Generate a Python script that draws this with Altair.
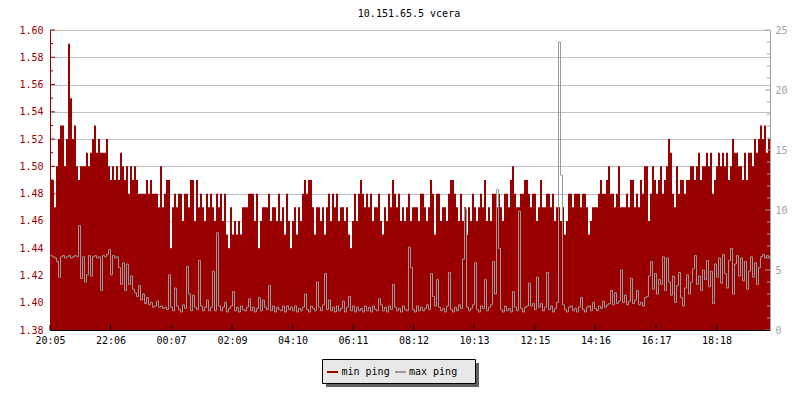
import json
import altair as alt
import pandas as pd

# ---------------- data ----------------
title_text = "10.151.65.5 vcera"
series_names = ["min ping", "max ping"]

# x axis: minutes after 20:05, one tick every ~121 minutes
tick_minutes = [0, 121, 242, 364, 485, 606, 727, 848, 970, 1091, 1212, 1333]
tick_labels = ["20:05", "22:06", "00:07", "02:09", "04:10", "06:11",
               "08:12", "10:13", "12:15", "14:16", "16:17", "18:18"]
left_major = [1.38, 1.40, 1.42, 1.44, 1.46, 1.48, 1.50, 1.52, 1.54, 1.56, 1.58, 1.60]
left_minor = [1.39, 1.41, 1.43, 1.45, 1.47, 1.49, 1.51, 1.53, 1.55, 1.57, 1.59]
right_major = [0, 5, 10, 15, 20, 25]
right_minor = [1, 2, 3, 4, 6, 7, 8, 9, 11, 12, 13, 14, 16, 17, 18, 19, 21, 22, 23, 24]

sample_minutes = 4  # one sample every 4 minutes

# min ping, in hundredths of ms (148 -> 1.48 ms)
min_ping_centi = [
    149, 149, 147, 150, 152, 153, 153, 150, 152, 159, 155, 152, 153, 150, 149, 150, 150, 150, 151, 150,
    151, 152, 153, 151, 152, 151, 151, 151, 152, 150, 149, 150, 149, 150, 149, 151, 150, 149, 150, 148,
    150, 149, 150, 149, 148, 148, 148, 148, 149, 148, 149, 148, 148, 148, 147, 150, 147, 148, 149, 149,
    144, 147, 148, 147, 148, 148, 146, 148, 148, 147, 149, 149, 146, 149, 147, 148, 147, 146, 148, 147,
    148, 147, 146, 148, 147, 148, 146, 148, 145, 144, 147, 145, 146, 145, 146, 145, 147, 147, 147, 148,
    148, 148, 146, 148, 144, 146, 147, 147, 147, 148, 146, 147, 147, 146, 148, 146, 147, 145, 148, 146,
    144, 146, 147, 145, 147, 146, 148, 149, 148, 149, 149, 147, 145, 147, 147, 146, 147, 145, 147, 148,
    146, 148, 147, 148, 146, 147, 147, 146, 147, 145, 144, 146, 148, 146, 148, 149, 148, 147, 148, 147,
    148, 146, 147, 147, 148, 146, 145, 147, 146, 148, 147, 149, 148, 147, 148, 146, 147, 146, 147, 148,
    146, 147, 147, 147, 146, 148, 148, 147, 146, 147, 149, 148, 145, 148, 148, 146, 147, 147, 146, 148,
    149, 149, 148, 147, 146, 148, 146, 147, 145, 147, 146, 148, 147, 146, 147, 148, 147, 149, 146, 147,
    146, 148, 148, 147, 148, 147, 146, 148, 148, 147, 149, 150, 148, 147, 147, 148, 148, 149, 149, 148,
    147, 148, 148, 146, 147, 149, 147, 147, 148, 148, 147, 148, 146, 147, 147, 146, 147, 145, 146, 148,
    148, 147, 148, 148, 148, 147, 148, 148, 147, 145, 146, 147, 147, 147, 148, 149, 148, 148, 149, 150,
    148, 148, 147, 148, 150, 147, 147, 147, 148, 147, 149, 149, 147, 148, 147, 149, 148, 150, 150, 146,
    148, 150, 149, 148, 149, 150, 148, 149, 150, 152, 151, 148, 147, 150, 148, 149, 149, 148, 149, 149,
    150, 150, 149, 150, 151, 149, 150, 150, 151, 150, 151, 148, 149, 150, 151, 150, 151, 150, 151, 149,
    150, 152, 151, 151, 150, 150, 149, 151, 149, 151, 151, 150, 152, 151, 152, 153, 152, 153, 151, 152,
]

# max ping, in tenths of ms (62 -> 6.2 ms)
max_ping_tenths = [
    62, 61, 60, 57, 44, 61, 62, 60, 61, 62, 60, 61, 62, 61, 87, 43, 61, 40, 46, 62,
    45, 61, 62, 60, 61, 33, 62, 61, 63, 67, 46, 62, 60, 61, 52, 38, 56, 33, 55, 38,
    45, 34, 31, 28, 37, 25, 30, 22, 27, 21, 23, 19, 20, 24, 19, 20, 18, 19, 17, 46,
    19, 16, 35, 20, 17, 15, 21, 18, 53, 30, 16, 29, 19, 17, 58, 20, 16, 19, 25, 16,
    19, 49, 16, 81, 20, 16, 19, 23, 15, 18, 20, 32, 16, 19, 15, 20, 17, 16, 19, 26,
    16, 19, 15, 18, 27, 16, 25, 19, 17, 37, 16, 20, 15, 19, 17, 16, 20, 15, 20, 17,
    19, 16, 20, 15, 18, 16, 19, 30, 17, 15, 20, 18, 16, 40, 19, 16, 21, 47, 17, 25,
    16, 19, 15, 20, 16, 18, 24, 15, 19, 28, 16, 20, 15, 19, 16, 18, 15, 20, 16, 19,
    15, 20, 17, 16, 26, 21, 16, 19, 15, 20, 17, 38, 19, 16, 18, 15, 20, 17, 16, 69,
    52, 17, 15, 20, 16, 19, 16, 18, 21, 17, 47, 28, 20, 42, 19, 16, 18, 15, 20, 48,
    17, 15, 19, 16, 21, 18, 59, 101, 19, 16, 18, 21, 56, 17, 15, 20, 18, 42, 16, 19,
    21, 57, 30, 117, 68, 17, 15, 20, 16, 18, 15, 32, 19, 16, 99, 18, 15, 19, 20, 39,
    20, 22, 17, 44, 19, 22, 16, 19, 48, 17, 20, 15, 18, 23, 240, 129, 21, 17, 15, 19,
    20, 16, 18, 15, 19, 27, 17, 15, 19, 20, 16, 23, 18, 16, 20, 18, 24, 19, 21, 22,
    33, 21, 31, 22, 24, 50, 23, 29, 21, 24, 43, 22, 25, 33, 21, 23, 20, 27, 28, 45,
    57, 34, 47, 30, 42, 38, 61, 33, 60, 40, 29, 45, 23, 37, 48, 27, 20, 35, 46, 30,
    40, 51, 62, 38, 45, 33, 50, 42, 58, 36, 49, 22, 55, 44, 60, 39, 63, 47, 35, 58,
    68, 30, 55, 62, 45, 60, 41, 57, 34, 49, 61, 44, 56, 38, 52, 61, 63, 60, 62, 61,
]

# ---------------- style ----------------
RED = "#990000"
GRAY = "#999999"
AXGRAY = "#a0a0a0"
GRID = "#c0c0c0"
FONT = "DejaVu Sans Mono"
W, H = 720, 300

n = len(min_ping_centi)
df = pd.DataFrame({
    "t": [i * sample_minutes for i in range(n)] + [n * sample_minutes],
    "min": [v / 100 for v in min_ping_centi] + [min_ping_centi[-1] / 100],
    "max": [v / 10 for v in max_ping_tenths] + [max_ping_tenths[-1] / 10],
})

xscale = alt.Scale(domain=[0, n * sample_minutes], nice=False, zero=False)
lscale = alt.Scale(domain=[1.38, 1.60], nice=False, zero=False)
rscale = alt.Scale(domain=[0, 25], nice=False, zero=False)

label_expr = "{}[indexof({}, datum.value)]".format(json.dumps(tick_labels), json.dumps(tick_minutes))

def xaxis():
    return alt.Axis(values=tick_minutes, labelExpr=label_expr, title=None, ticks=False, grid=False,
                    domainColor="#000000", domainWidth=1, labelColor="#000000", labelFont=FONT,
                    labelFontSize=10, labelPadding=5, labelFlush=False, labelOverlap=False, zindex=1)

def laxis():
    return alt.Axis(values=left_major, format=".2f", title=None, ticks=False, grid=True,
                    gridColor=GRID, gridWidth=1, domainColor=RED, labelColor=RED,
                    labelFont=FONT, labelFontSize=10, labelPadding=7)

def raxis():
    return alt.Axis(orient="right", values=right_major, title=None, ticks=False, grid=False,
                    domainColor=AXGRAY, labelColor=AXGRAY, labelFont=FONT, labelFontSize=10,
                    labelPadding=5, zindex=1)

area = alt.Chart(df).mark_area(interpolate="step-after", color=RED).encode(
    x=alt.X("t:Q", scale=xscale, axis=xaxis()),
    y=alt.Y("min:Q", scale=lscale, axis=laxis()),
    y2=alt.datum(1.38),
)

lt_major = alt.Chart(pd.DataFrame({"min": left_major})).mark_rule(color=RED).encode(
    y=alt.Y("min:Q", scale=lscale, axis=laxis()), x=alt.value(0), x2=alt.value(5))
lt_minor = alt.Chart(pd.DataFrame({"min": left_minor})).mark_rule(color=RED).encode(
    y=alt.Y("min:Q", scale=lscale, axis=laxis()), x=alt.value(0), x2=alt.value(3))

line = alt.Chart(df).mark_line(interpolate="step-after", color=GRAY, strokeWidth=1, xOffset=0.5).encode(
    x=alt.X("t:Q", scale=xscale, axis=xaxis()),
    y=alt.Y("max:Q", scale=rscale, axis=raxis()),
)
rt_major = alt.Chart(pd.DataFrame({"max": right_major})).mark_rule(color=AXGRAY).encode(
    y=alt.Y("max:Q", scale=rscale, axis=raxis()), x=alt.value(W - 5), x2=alt.value(W))
rt_minor = alt.Chart(pd.DataFrame({"max": right_minor})).mark_rule(color=AXGRAY).encode(
    y=alt.Y("max:Q", scale=rscale, axis=raxis()), x=alt.value(W - 3), x2=alt.value(W))

xticks = alt.Chart(pd.DataFrame({"t": tick_minutes})).mark_rule(color="#000000").encode(
    x=alt.X("t:Q", scale=xscale, axis=xaxis()), y=alt.value(H - 5), y2=alt.value(H))

one = pd.DataFrame({"a": [0]})
title = alt.Chart(one).mark_text(text=title_text, font=FONT, fontSize=10, color="#000000",
                                 align="center", baseline="alphabetic").encode(
    x=alt.value(359), y=alt.value(-13))

leg_shadow = alt.Chart(one).mark_rect(color="#606060").encode(
    x=alt.value(276), x2=alt.value(429), y=alt.value(333), y2=alt.value(357))
leg_box = alt.Chart(one).mark_rect(fill="#e8e8e8", stroke="#000000", strokeWidth=1).encode(
    x=alt.value(272.5), x2=alt.value(425.5), y=alt.value(329.5), y2=alt.value(353.5))
leg_sw1 = alt.Chart(one).mark_rule(color=RED, strokeWidth=2).encode(
    x=alt.value(277), x2=alt.value(288), y=alt.value(342))
leg_sw2 = alt.Chart(one).mark_rule(color=GRAY, strokeWidth=2).encode(
    x=alt.value(345), x2=alt.value(356), y=alt.value(342))
leg_t1 = alt.Chart(one).mark_text(text=series_names[0], font=FONT, fontSize=10, color="#000000",
                                  align="left", baseline="alphabetic").encode(
    x=alt.value(291.5), y=alt.value(344.5))
leg_t2 = alt.Chart(one).mark_text(text=series_names[1], font=FONT, fontSize=10, color="#000000",
                                  align="left", baseline="alphabetic").encode(
    x=alt.value(359), y=alt.value(344.5))

left_layer = alt.layer(area, lt_major, lt_minor)
right_layer = alt.layer(line, rt_major, rt_minor, xticks)

chart = alt.layer(
    left_layer, right_layer, title, leg_shadow, leg_box, leg_sw1, leg_sw2, leg_t1, leg_t2
).resolve_scale(y="independent").properties(
    width=W, height=H,
    padding={"left": 42, "top": 22, "right": 22, "bottom": 62},
    autosize=alt.AutoSizeParams(type="none"),
    background="#ffffff",
).configure_view(stroke=None)

chart.save("out.html", embed_options={"renderer": "svg", "actions": False})
